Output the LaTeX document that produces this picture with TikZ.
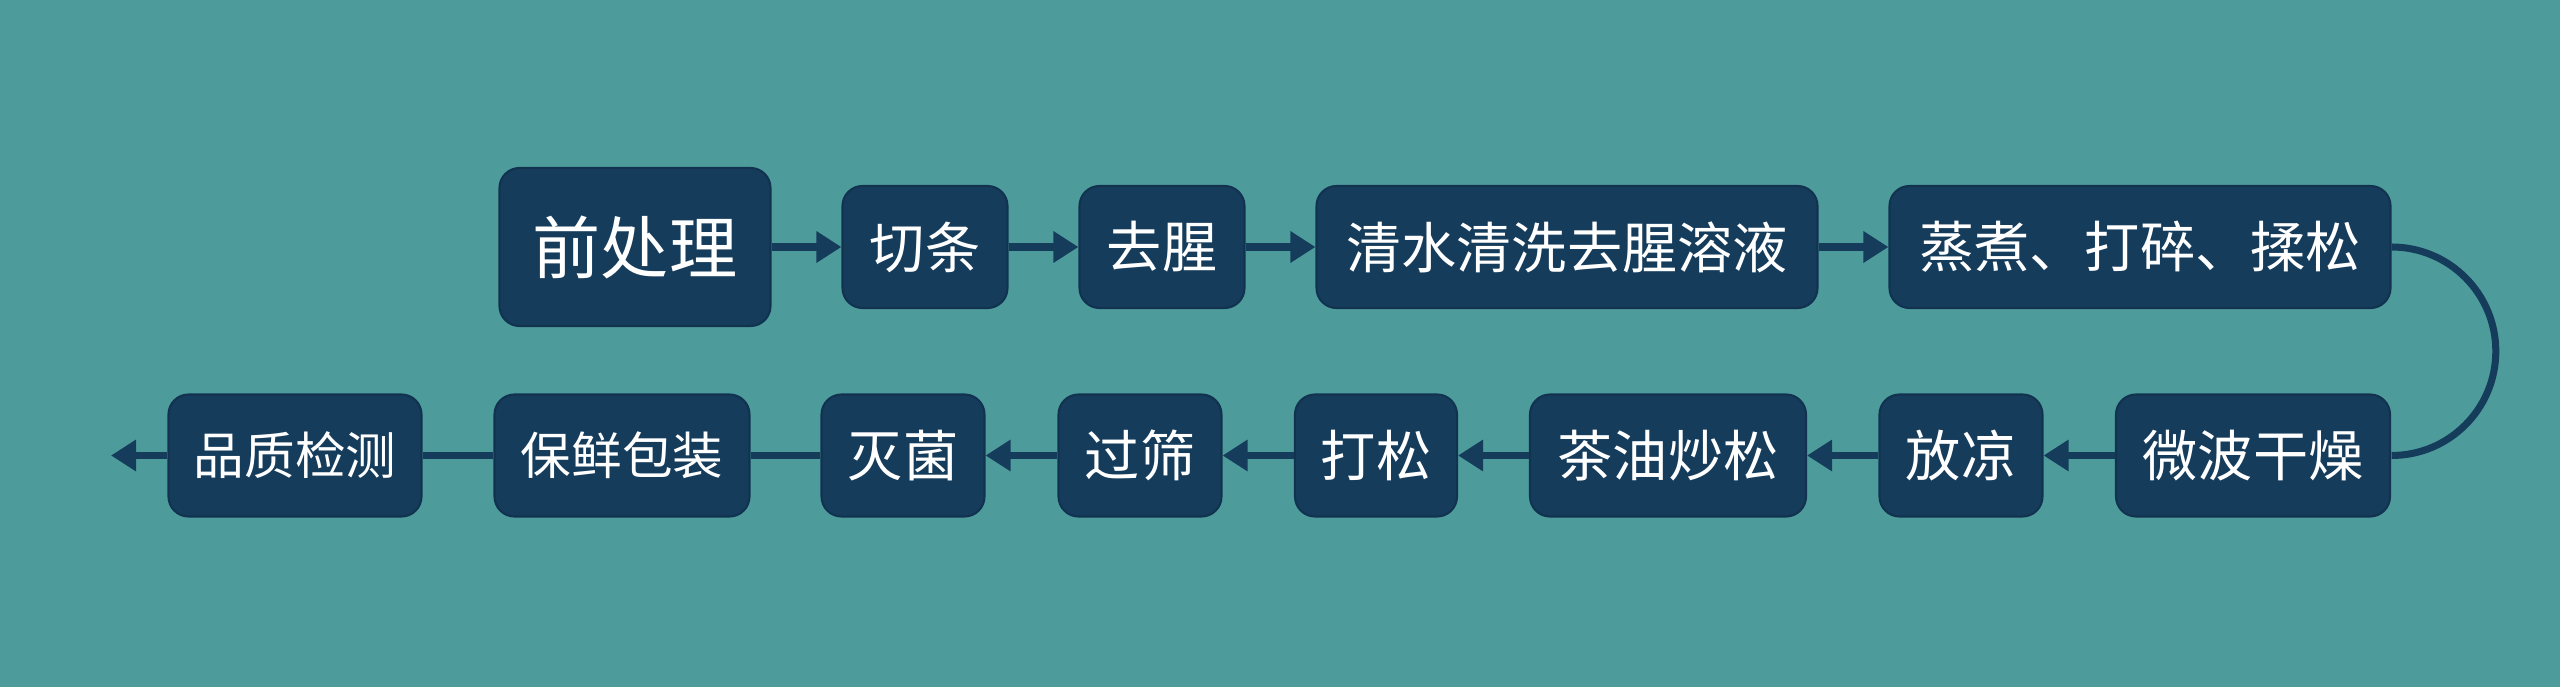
\documentclass[tikz,border=0pt]{standalone}
\usepackage{fontspec}
\newfontfamily\cjk{Noto Sans CJK SC}
\usetikzlibrary{arrows.meta}
\definecolor{bgteal}{HTML}{4D9B9B}
\definecolor{boxnavy}{HTML}{163C5C}
\definecolor{boxedge}{HTML}{123350}
\tikzset{
  stepbox/.style={draw=boxedge, line width=0.6pt, fill=boxnavy, rounded corners=0.2cm,
    text=white, font=\cjk\fontsize{15.7pt}{18pt}\selectfont,
    minimum height=1.22cm, inner sep=2pt},
  flow/.style={line width=2pt, draw=boxnavy, -{Triangle[length=0.25cm, width=0.3cm]}},
  link/.style={line width=2pt, draw=boxnavy},
}
\begin{document}
\begin{tikzpicture}
    % 背景
    \fill[bgteal] (0, 0) rectangle (25.6, 6.87);
    \useasboundingbox (0, 0) rectangle (25.6, 6.87);

    % 第一行
    \node[stepbox, minimum width=2.71cm, minimum height=1.58cm,
          font=\cjk\fontsize{19.4pt}{22pt}\selectfont] (qianchuli) at (6.35, 4.40) {前处理};
    \node[stepbox, minimum width=1.65cm] (qietiao) at (9.25, 4.40) {切条};
    \node[stepbox, minimum width=1.65cm] (quxing) at (11.62, 4.40) {去腥};
    \node[stepbox, minimum width=5.01cm] (qingxi) at (15.67, 4.40) {清水清洗去腥溶液};
    \node[stepbox, minimum width=5.01cm] (zhengzhu) at (21.40, 4.40) {蒸煮、打碎、揉松};

    % 第二行
    \node[stepbox, minimum width=2.74cm] (weibo) at (22.53, 2.315) {微波干燥};
    \node[stepbox, minimum width=1.63cm] (fangliang) at (19.61, 2.315) {放凉};
    \node[stepbox, minimum width=2.76cm] (chaosong) at (16.68, 2.315) {茶油炒松};
    \node[stepbox, minimum width=1.62cm] (dasong) at (13.76, 2.315) {打松};
    \node[stepbox, minimum width=1.63cm] (guoshai) at (11.40, 2.315) {过筛};
    \node[stepbox, minimum width=1.63cm] (mijun) at (9.03, 2.315) {灭菌};
    \node[stepbox, minimum width=2.55cm, font=\cjk\fontsize{14.4pt}{17pt}\selectfont] (baoxian) at (6.22, 2.315) {保鲜包装};
    \node[stepbox, minimum width=2.53cm, font=\cjk\fontsize{14.4pt}{17pt}\selectfont] (pinzhi) at (2.95, 2.315) {品质检测};
    \coordinate (zhongdian) at (1.11, 2.315);

    % 箭头
    \draw[flow] (qianchuli) -- (qietiao);
    \draw[flow] (qietiao) -- (quxing);
    \draw[flow] (quxing) -- (qingxi);
    \draw[flow] (qingxi) -- (zhengzhu);

    % 转弯
    \draw[link] (zhengzhu.east) arc[start angle=90, end angle=-90, radius=1.0425];

    \draw[flow] (weibo) -- (fangliang);
    \draw[flow] (fangliang) -- (chaosong);
    \draw[flow] (chaosong) -- (dasong);
    \draw[flow] (dasong) -- (guoshai);
    \draw[flow] (guoshai) -- (mijun);
    \draw[link] (mijun) -- (baoxian);
    \draw[link] (baoxian) -- (pinzhi);
    \draw[flow] (pinzhi) -- (zhongdian);
\end{tikzpicture}
\end{document}
